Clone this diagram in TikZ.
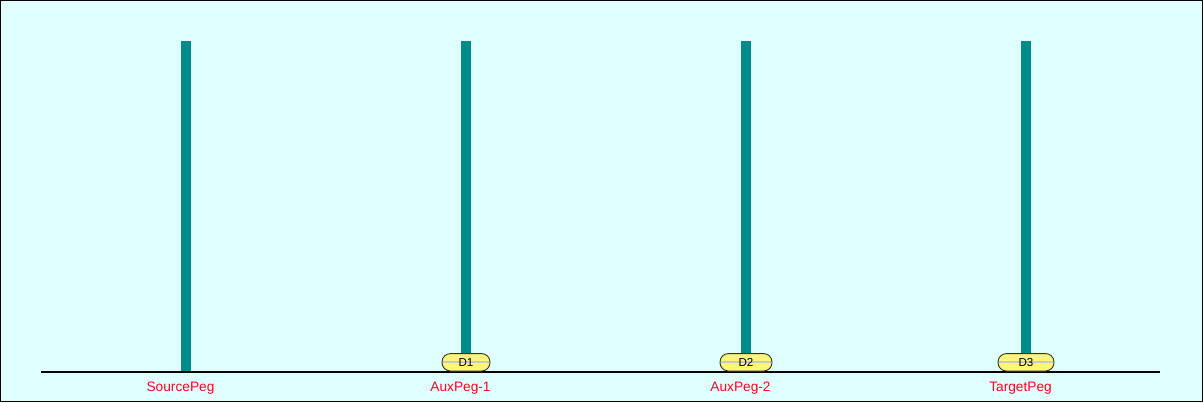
\documentclass[tikz,border=0pt]{standalone}
\usepackage{fontspec}
\setmainfont{Liberation Sans}
\definecolor{bgc}{HTML}{E0FFFF}
\definecolor{pegc}{HTML}{008B8B}
\definecolor{diskc}{HTML}{FFF578}
\definecolor{labc}{HTML}{FF0022}
\definecolor{diskline}{HTML}{C8C8C8}
\tikzset{
  peg/.style={fill=pegc, draw=none, minimum width=10pt, minimum height=330pt, inner sep=0pt, outer sep=0pt},
  disk/.style={fill=diskc, draw=black!80, line width=0.9pt, rounded corners=8.5pt, minimum height=17.5pt, inner sep=0pt, outer sep=0pt, font=\fontsize{11.6}{13}\selectfont,
    path picture={\draw[diskline, line width=2pt] (path picture bounding box.west) -- (path picture bounding box.east);}},
  peglabel/.style={text=labc, font=\fontsize{13.7}{16}\selectfont, anchor=base, inner sep=0pt},
  ground/.style={line width=2pt, black}
}
\begin{document}
\begin{tikzpicture}[x=1pt,y=-1pt]
\useasboundingbox (0,0) rectangle (1203,402);
\fill[bgc] (0,0) rectangle (1203,402);
\draw[black, line width=1.2pt] (0.6,0.6) rectangle (1202.4,401.4);
\node[peg] (p1) at (186,206) {};
\node[peg] (p2) at (466,206) {};
\node[peg] (p3) at (746,206) {};
\node[peg] (p4) at (1026,206) {};
\coordinate (gl) at (41,371.5);
\coordinate (gr) at (1160,371.5);
\draw[ground] (gl) -- (gr);
\node[disk, minimum width=48pt] (d1) at (466,362.3) {D1};
\node[disk, minimum width=52pt] (d2) at (746,362.3) {D2};
\node[disk, minimum width=56pt] (d3) at (1026,362.3) {D3};
\node[peglabel] (l1) at (180.5,391) {SourcePeg};
\node[peglabel] (l2) at (460.5,391) {AuxPeg-1};
\node[peglabel] (l3) at (740.5,391) {AuxPeg-2};
\node[peglabel] (l4) at (1020.5,391) {TargetPeg};
\end{tikzpicture}
\end{document}
